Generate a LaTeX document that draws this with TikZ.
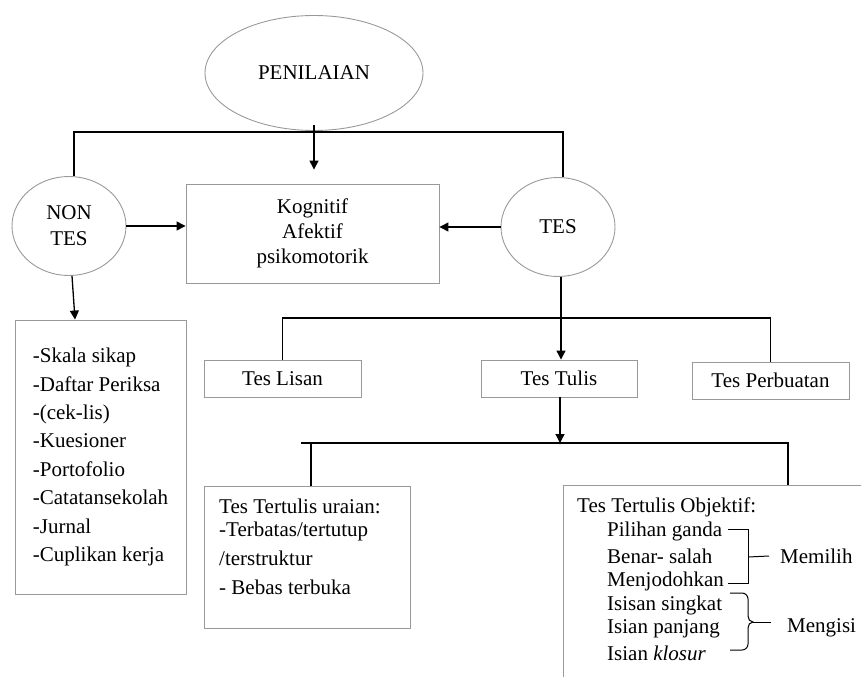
\documentclass[tikz,border=0pt]{standalone}
\usepackage{fontspec}
\setmainfont{Liberation Serif}
\usetikzlibrary{shapes.geometric,arrows.meta}
\begin{document}
\begin{tikzpicture}[x=1pt,y=-1pt,
  font=\fontsize{21}{25}\selectfont,
  conn/.style={line width=1.3pt, draw=black},
  arr/.style={conn, -{Triangle[width=9pt,length=9pt]}},
  oval/.style={ellipse, draw=black!40, line width=0.9pt, align=center, inner sep=0pt},
  box/.style={rectangle, draw=black!40, line width=0.9pt, align=center, inner sep=0pt},
  txt/.style={anchor=west, inner sep=0pt}]
\useasboundingbox (0,0) rectangle (861,677);

% top level
\node[oval, minimum width=218pt, minimum height=115pt] (pen) at (314,73) {PENILAIAN};
\node[oval, minimum width=114pt, minimum height=99pt, font=\fontsize{21}{26}\selectfont] (nontes) at (69,226) {NON\\TES};
\node[oval, minimum width=114pt, minimum height=99pt] (tes) at (558,227) {TES};
\node[box, minimum width=253pt, minimum height=99pt] (kog) at (312.5,233.5) {Kognitif\\Afektif\\psikomotorik};

% non tes list
\node[box, minimum width=171pt, minimum height=274pt, align=left, font=\fontsize{21}{28.4}\selectfont] (list) at (100.5,457)
 {-Skala sikap\\-Daftar Periksa\\-(cek-lis)\\-Kuesioner\\-Portofolio\\-Catatansekolah\\-Jurnal\\-Cuplikan kerja};

% tes types
\node[box, minimum width=157pt, minimum height=37pt] (lisan) at (282.5,378.5) {Tes Lisan};
\node[box, minimum width=156pt, minimum height=37pt] (tulis) at (559,378.5) {Tes Tulis};
\node[box, minimum width=157pt, minimum height=37pt] (perb) at (770.5,380.5) {Tes Perbuatan};

% uraian
\node[box, minimum width=206pt, minimum height=142pt] (uraian) at (307,557) {};
\node[txt] (u1) at (219,506) {Tes Tertulis uraian:};
\node[txt] (u2) at (219,531) {-Terbatas/tertutup};
\node[txt] (u3) at (219,558) {/terstruktur};
\node[txt] (u4) at (219,587) {- Bebas terbuka};

% objektif (open box)
\coordinate (objtop) at (788,485);
\draw[draw=black!40, line width=0.9pt] (861,485) -- (563,485) -- (563,677);
\node[txt] (o0) at (577,507) {Tes Tertulis Objektif:};
\node[txt] (o1) at (607,531) {Pilihan ganda};
\node[txt] (o2) at (607,556) {Benar- salah};
\node[txt] (o3) at (607,581) {Menjodohkan};
\node[txt] (o4) at (607,605) {Isisan singkat};
\node[txt] (o5) at (607,629) {Isian panjang};
\node[txt] (o6) at (607,653) {Isian \textit{klosur}};
\node[txt] (memilih) at (780,556) {Memilih};
\node[txt] (mengisi) at (787,628) {Mengisi};

% brackets
\coordinate (b1a) at (728,529);
\coordinate (b1b) at (748,529);
\coordinate (b1c) at (748,583);
\coordinate (b1d) at (728,583);
\coordinate (b1m) at (748,557);
\draw[line width=1pt] (b1a) -- (b1b) -- (b1c) -- (b1d);
\draw[line width=1pt] (b1m) -- (memilih.west -| 769,0);
\coordinate (b2a) at (730,593);
\coordinate (b2m) at (753,622);
\coordinate (b2b) at (730,650);
\draw[line width=1pt] (b2a) -- (742,593) to[out=0,in=90] (748,599) -- (748,616)
   to[out=-90,in=180] (b2m) to[out=180,in=90] (748,628) -- (748,644)
   to[out=-90,in=0] (742,650) -- (b2b);
\draw[line width=1pt] (b2m) -- (771,622);

% connectors top
\coordinate (tl) at (74,132);
\coordinate (tr) at (563,132);
\draw[conn] (nontes.north -| tl) -- (tl) -- (tr) -- (tes.north -| tr);
\draw[arr] ([yshift=6pt]pen.south) -- ([yshift=14pt]pen.south |- kog.north);
\draw[arr] (nontes.east) -- (nontes.east -| kog.west);
\draw[arr] (tes.west) -- (tes.west -| kog.east);
\draw[arr] ([xshift=3pt]nontes.south) -- ([xshift=6pt]nontes.south |- list.north);

% tes branches
\coordinate (h1) at (0,318);
\draw[arr] ([xshift=3pt]tes.south) -- ([xshift=3pt]tes.south |- tulis.north);
\draw[conn] (lisan.north) -- (lisan.north |- h1) -| (perb.north);

% tulis branches
\coordinate (h2l) at (301,443);
\coordinate (h2u) at (311,443);
\draw[arr] ([xshift=1pt]tulis.south) -- ([xshift=1pt]tulis.south |- h2l);
\draw[conn] (h2l) -| (objtop);
\draw[conn] (h2u) -- (h2u |- uraian.north);
\end{tikzpicture}
\end{document}
